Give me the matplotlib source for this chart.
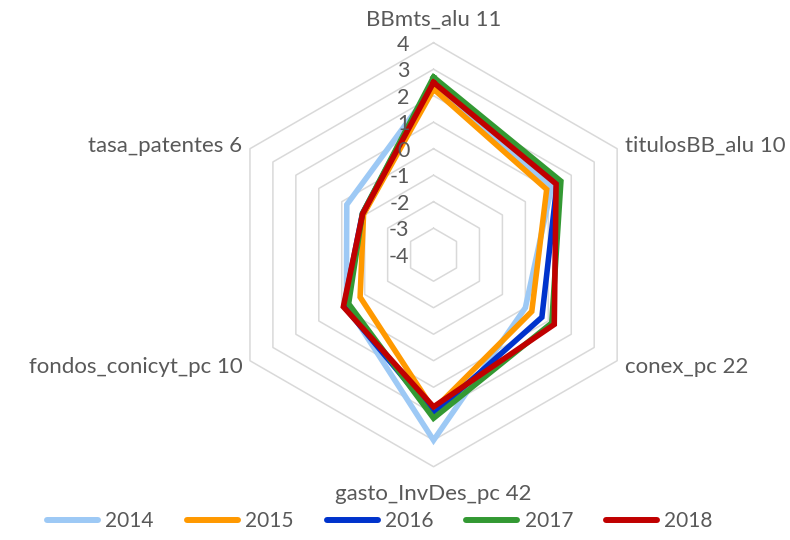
import numpy as np
import matplotlib.pyplot as plt
from matplotlib.transforms import offset_copy
from matplotlib.lines import Line2D

plt.rcParams['font.family'] = ['Lato', 'DejaVu Sans']

categories = ["BBmts_alu 11", "titulosBB_alu 10", "conex_pc 22",
              "gasto_InvDes_pc 42", "fondos_conicyt_pc 10", "tasa_patentes 6"]
years = ["2014", "2015", "2016", "2017", "2018"]
v2014 = [2.35, 1.15, 0.00, 3.00, -0.20, -0.22]
v2015 = [2.25, 0.93, 0.28, 1.85, -0.80, -0.95]
v2016 = [2.60, 1.38, 0.72, 2.00, -0.10, -0.90]
v2017 = [2.70, 1.55, 1.15, 2.17, -0.30, -0.90]
v2018 = [2.50, 1.34, 1.26, 1.74, -0.07, -0.91]
series = [v2014, v2015, v2016, v2017, v2018]
colors = ["#9DC9F5", "#FF9900", "#0033CC", "#339933", "#C00000"]
ticks = [-4, -3, -2, -1, 0, 1, 2, 3, 4]

TXT = "#595959"
GRID = "#D9D9D9"

fig = plt.figure(figsize=(7.9, 5.4), dpi=100)
ax = fig.add_axes([0.2804, 0.1357, 0.5368, 0.7852], projection='polar')
ax.set_theta_zero_location('N')
ax.set_theta_direction(-1)
ax.set_ylim(-4, 4)
ax.grid(False)
ax.set_xticks([])
ax.set_yticks([])
ax.spines['polar'].set_visible(False)
ax.patch.set_alpha(0)

n = len(categories)
theta = np.arange(n) * 2 * np.pi / n
theta_c = np.append(theta, theta[0])

for k in ticks[1:]:
    ax.plot(theta_c, [k] * (n + 1), color=GRID, lw=1.1, zorder=1, clip_on=False)

for vals, c in zip(series, colors):
    ax.plot(theta_c, list(vals) + [vals[0]], color=c, lw=4, zorder=3,
            solid_joinstyle='miter', clip_on=False)

# value labels along the top axis
tr = offset_copy(ax.transData, fig=fig, x=-24, y=-2, units='dots')
for k in ticks:
    ax.text(0, k, str(k), transform=tr, ha='right', va='center',
            fontsize=15.5, color=TXT)

# category labels
offs = [(0, 23, 'center'), (8, 3, 'left'), (8, -6, 'left'),
        (0, -27, 'center'), (-7, -6, 'right'), (-8, 3, 'right')]
for t, lab, (dx, dy, ha) in zip(theta, categories, offs):
    trc = offset_copy(ax.transData, fig=fig, x=dx, y=dy, units='dots')
    ax.text(t, 4, lab, transform=trc, ha=ha, va='center', fontsize=16, color=TXT)

handles = [Line2D([0], [0], color=c, lw=4.3, solid_capstyle='round') for c in colors]
leg = fig.legend(handles, years, loc='center', bbox_to_anchor=(0.481, 0.035),
                 ncol=5, frameon=False, fontsize=15, handlelength=2.45,
                 handletextpad=0.35, columnspacing=1.58)
for t in leg.get_texts():
    t.set_color(TXT)

fig.savefig('out.png', dpi=100)
